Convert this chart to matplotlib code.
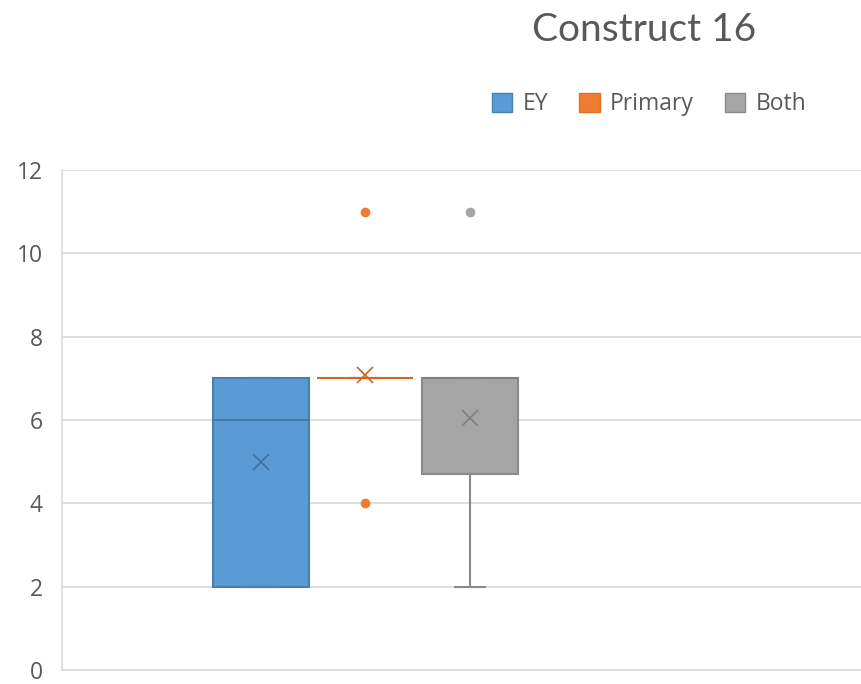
import matplotlib
matplotlib.use('Agg')
import matplotlib.pyplot as plt
from matplotlib.patches import Patch

plt.rcParams['font.family'] = ['Open Sans', 'DejaVu Sans']

# data
series = ['EY', 'Primary', 'Both']
q1 = [2, 7, 4.7]
q3 = [7, 7, 7]
medians = [6, 7, 7]
means = [5, 7.07, 6.04]
whisker_lo = [2, 7, 2]
whisker_hi = [7, 7, 7]
outliers = [[], [4, 11], [11]]
y_ticks = [0, 2, 4, 6, 8, 10, 12]

face_colors = ['#5B9BD5', '#ED7D31', '#A5A5A5']
edge_colors = ['#4A7EB0', '#E07128', '#8A8A8A']
mean_colors = ['#41719C', '#D0661F', '#7F7F7F']

# category 1 of 2 -> boxes sit around x=0.5
positions = [0.327, 0.4975, 0.670]
box_w = 0.158

fig = plt.figure(figsize=(8.61, 6.84), dpi=100)
# plot area runs past the right edge (second empty category is cropped)
ax = fig.add_axes([62 / 861, 14 / 684, 1218 / 861, 500 / 684])

for i, name in enumerate(series):
    stats = [dict(label=name, med=medians[i], q1=q1[i], q3=q3[i],
                  whislo=whisker_lo[i], whishi=whisker_hi[i],
                  mean=means[i], fliers=outliers[i])]
    ax.bxp(stats, positions=[positions[i]], widths=box_w, patch_artist=True,
           showmeans=True, capwidths=0.05,
           boxprops=dict(facecolor=face_colors[i] if i != 1 else 'none',
                         edgecolor=edge_colors[i], linewidth=1.5),
           medianprops=dict(color=mean_colors[i], linewidth=1.2),
           whiskerprops=dict(color=edge_colors[i], linewidth=1.5),
           capprops=dict(color=edge_colors[i], linewidth=1.5),
           meanprops=dict(marker='x', markeredgecolor=mean_colors[i],
                          markersize=12, markeredgewidth=1.2),
           flierprops=dict(marker='o', markerfacecolor=face_colors[i],
                           markeredgecolor=face_colors[i], markersize=6),
           zorder=3)

ax.set_xlim(0, 2)
ax.set_ylim(0, 12)
ax.set_yticks(y_ticks)
ax.set_xticks([])
ax.tick_params(axis='y', length=0, pad=14, labelsize=16.5, labelcolor='#595959')
ax.grid(True, axis='y', color='#D9D9D9', linewidth=1.2, zorder=0)
ax.set_axisbelow(True)
for s in ['top', 'right']:
    ax.spines[s].set_visible(False)
for s in ['left', 'bottom']:
    ax.spines[s].set_color('#D9D9D9')
    ax.spines[s].set_linewidth(1.2)

fig.text(644 / 861, 1 - 30 / 684, 'Construct 16', ha='center', va='center',
         fontsize=28, color='#595959', family=['Lato', 'DejaVu Sans'])

handles = [Patch(facecolor=face_colors[i], edgecolor=edge_colors[i], label=series[i])
           for i in range(3)]
fig.legend(handles=handles, loc='center', bbox_to_anchor=(649 / 861, 1 - 104 / 684),
           ncol=3, frameon=False, fontsize=16.5, handlelength=0.9, handleheight=0.9,
           handletextpad=0.45, columnspacing=1.35, labelcolor='#595959')

fig.savefig('out.png', dpi=100)
